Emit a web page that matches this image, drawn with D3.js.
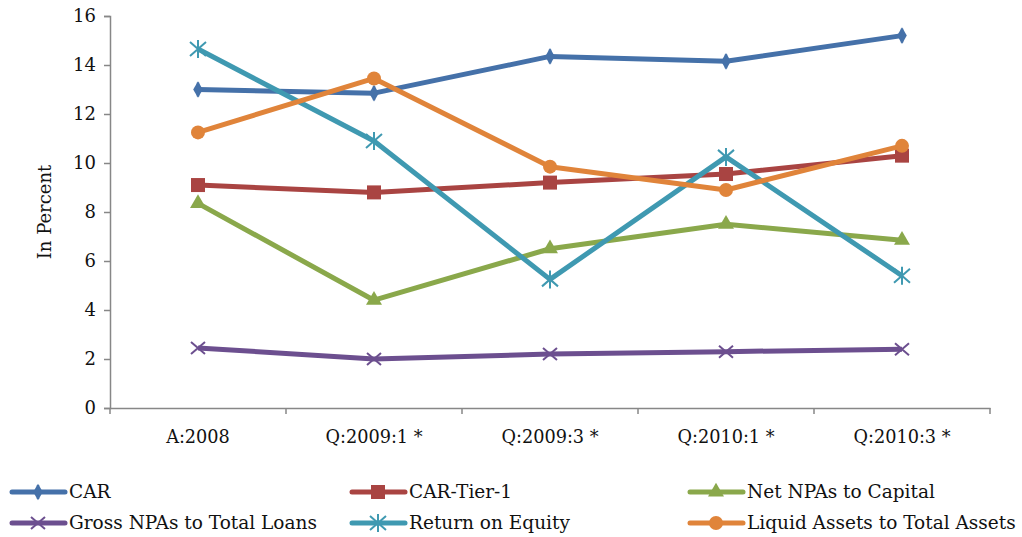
<!DOCTYPE html>
<html>
<head>
<meta charset="utf-8">
<script src="https://cdn.jsdelivr.net/npm/d3@7"></script>
<style>
  body { margin: 0; background: #fff; }
  svg text { font-family: "DejaVu Serif", serif; }
</style>
</head>
<body>
<svg id="chart" width="1022" height="537"></svg>
<script>
const categories = ["A:2008", "Q:2009:1 *", "Q:2009:3 *", "Q:2010:1 *", "Q:2010:3 *"];
const yTicks = [0, 2, 4, 6, 8, 10, 12, 14, 16];

const seriesNames = ["CAR", "CAR-Tier-1", "Net NPAs to Capital",
  "Gross NPAs to Total Loans", "Return on Equity", "Liquid Assets to Total Assets"];

const car = [13.0, 12.85, 14.35, 14.15, 15.2];
const carTier1 = [9.1, 8.8, 9.2, 9.55, 10.3];
const netNpa = [8.35, 4.4, 6.5, 7.5, 6.85];
const grossNpa = [2.45, 2.0, 2.2, 2.3, 2.4];
const roe = [14.65, 10.9, 5.25, 10.25, 5.4];
const liquid = [11.25, 13.45, 9.85, 8.9, 10.7];

const allValues = [car, carTier1, netNpa, grossNpa, roe, liquid];
const colors = ["#4571a9", "#a94442", "#8aa84b", "#6c4f8f", "#3f99b1", "#e0843a"];
const markers = ["diamond", "square", "triangle", "x", "star", "circle"];

const svg = d3.select("#chart");
const margin = { left: 110, top: 16, right: 32, bottom: 129 };
const width = 1022, height = 537;

const x = d3.scaleBand()
  .domain(categories)
  .range([margin.left, width - margin.right]);

const y = d3.scaleLinear()
  .domain([0, 16])
  .range([height - margin.bottom, margin.top]);

// axes
const xAxis = svg.append("g")
  .attr("transform", `translate(0,${height - margin.bottom})`)
  .call(d3.axisBottom(x).tickSize(0).tickPadding(22));
xAxis.attr("font-family", null).attr("font-size", null);
xAxis.select(".domain").attr("stroke", "#878787").attr("stroke-width", 1.5);
xAxis.selectAll("text").style("font-size", "17.7px").attr("fill", "#111");

// category boundary ticks
const bounds = categories.map(c => x(c)).concat([x(categories[categories.length - 1]) + x.bandwidth()]);
svg.append("g").selectAll("line")
  .data(bounds)
  .join("line")
  .attr("x1", d => d).attr("x2", d => d)
  .attr("y1", y(0)).attr("y2", y(0) + 6)
  .attr("stroke", "#878787").attr("stroke-width", 1.5);

const yAxis = svg.append("g")
  .attr("transform", `translate(${margin.left},0)`)
  .call(d3.axisLeft(y).tickValues(yTicks).tickSize(6).tickPadding(8));
yAxis.attr("font-family", null).attr("font-size", null);
yAxis.selectAll("line, .domain").attr("stroke", "#878787").attr("stroke-width", 1.5);
yAxis.selectAll("text").style("font-size", "18px").attr("fill", "#111");

svg.append("text")
  .attr("transform", `translate(51,${(y(0) + y(16)) / 2}) rotate(-90)`)
  .attr("text-anchor", "middle")
  .style("font-size", "18px")
  .attr("fill", "#111")
  .text("In Percent");

// marker drawing
function drawMarker(g, type, color) {
  if (type === "diamond") {
    g.append("path").attr("d", d3.symbol(d3.symbolDiamond, 80)()).attr("fill", color);
    g.append("line").attr("x1", 0).attr("x2", 0).attr("y1", -7).attr("y2", 7)
      .attr("stroke", color).attr("stroke-width", 2.5);
  } else if (type === "square") {
    g.append("rect").attr("x", -7).attr("y", -7).attr("width", 14).attr("height", 14).attr("fill", color);
  } else if (type === "triangle") {
    g.append("path").attr("d", d3.symbol(d3.symbolTriangle, 110)()).attr("fill", color);
  } else if (type === "x") {
    g.append("path").attr("d", "M-7,-6L7,6M-7,6L7,-6")
      .attr("stroke", color).attr("stroke-width", 2).attr("fill", "none");
  } else if (type === "star") {
    g.append("path").attr("d", "M-8,-7L8,7M-8,7L8,-7M0,-9L0,9")
      .attr("stroke", color).attr("stroke-width", 2).attr("fill", "none");
  } else if (type === "circle") {
    g.append("circle").attr("r", 7).attr("fill", color);
  }
}

const cx = c => x(c) + x.bandwidth() / 2;
const line = d3.line()
  .x((d, i) => cx(categories[i]))
  .y(d => y(d));

allValues.forEach((vals, s) => {
  const g = svg.append("g");
  g.append("path")
    .datum(vals)
    .attr("d", line)
    .attr("fill", "none")
    .attr("stroke", colors[s])
    .attr("stroke-width", 5)
    .attr("stroke-linejoin", "round");
  vals.forEach((v, i) => {
    const m = g.append("g").attr("transform", `translate(${cx(categories[i])},${y(v)})`);
    drawMarker(m, markers[s], colors[s]);
  });
});

// legend
const legendCols = [10, 350, 688];
const legendRows = [492, 523];
seriesNames.forEach((name, s) => {
  const lx = legendCols[s % 3];
  const ly = legendRows[Math.floor(s / 3)];
  const g = svg.append("g").attr("transform", `translate(${lx},${ly})`);
  g.append("line").attr("x1", 2).attr("x2", 55).attr("y1", 0).attr("y2", 0)
    .attr("stroke", colors[s]).attr("stroke-width", 5).attr("stroke-linecap", "round");
  const m = g.append("g").attr("transform", "translate(28,0)");
  drawMarker(m, markers[s], colors[s]);
  g.append("text")
    .attr("x", 59).attr("y", 0).attr("dy", "0.35em")
    .style("font-size", "18.5px").attr("fill", "#111")
    .text(name);
});
</script>
</body>
</html>
